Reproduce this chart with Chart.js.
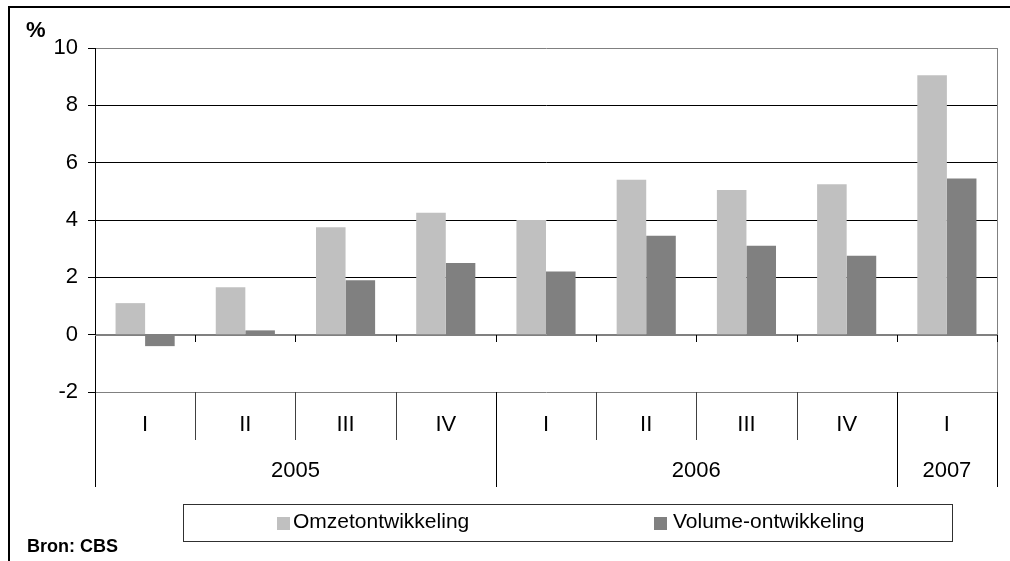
<!DOCTYPE html>
<html>
<head>
<meta charset="utf-8">
<script src="https://cdn.jsdelivr.net/npm/chart.js@4/dist/chart.umd.min.js"></script>
<style>
  html, body { margin: 0; padding: 0; background: #fff; }
  #wrap { width: 1010px; height: 561px; position: relative; }
</style>
</head>
<body>
<div id="wrap"><canvas id="c" width="1010" height="561"></canvas></div>
<script>
// ---- data ----
const categories = ['I', 'II', 'III', 'IV', 'I', 'II', 'III', 'IV', 'I'];
const years = ['2005', '2006', '2007'];
const yearSpans = [4, 4, 1];
const seriesNames = ['Omzetontwikkeling', 'Volume-ontwikkeling'];
const omzet = [1.1, 1.65, 3.75, 4.25, 4.0, 5.4, 5.05, 5.25, 9.05];
const volume = [-0.4, 0.15, 1.9, 2.5, 2.2, 3.45, 3.1, 2.75, 5.45];
const yMin = -2, yMax = 10, yStep = 2;
const unitLabel = '%';
const sourceLabel = 'Bron: CBS';

const colors = ['#C0C0C0', '#808080'];
const FONT = "'Liberation Sans', Arial, sans-serif";

const decor = {
  id: 'decor',
  beforeDraw(chart) {
    const ctx = chart.ctx;
    ctx.save();
    ctx.fillStyle = '#fff';
    ctx.fillRect(0, 0, chart.width, chart.height);
    ctx.restore();
  },
  afterDatasetsDraw(chart) {
    const ctx = chart.ctx;
    const x = chart.scales.x, y = chart.scales.y;
    const ca = chart.chartArea;
    const L = Math.round(ca.left), R = Math.round(ca.right);
    const T = Math.round(ca.top), B = Math.round(ca.bottom);
    const y0 = Math.round(y.getPixelForValue(0));
    const n = categories.length;
    const catW = (R - L) / n;
    ctx.save();

    // zero line on top of bars
    ctx.strokeStyle = '#808080';
    ctx.lineWidth = 1;
    ctx.beginPath();
    ctx.moveTo(L, y0 + 0.5); ctx.lineTo(R, y0 + 0.5);
    ctx.stroke();
    // right plot border
    ctx.beginPath();
    ctx.moveTo(R + 0.5, T); ctx.lineTo(R + 0.5, B);
    ctx.stroke();

    // small ticks at zero line
    ctx.strokeStyle = '#000';
    for (let k = 1; k <= n; k++) {
      const xx = Math.round(L + k * catW) + 0.5;
      ctx.beginPath();
      ctx.moveTo(xx, y0); ctx.lineTo(xx, y0 + 7);
      ctx.stroke();
    }

    // category separators
    const yearBounds = [0];
    let acc = 0;
    yearSpans.forEach(s => { acc += s; yearBounds.push(acc); });
    for (let k = 0; k <= n; k++) {
      const xx = Math.round(L + k * catW) + 0.5;
      const isYear = yearBounds.includes(k);
      ctx.strokeStyle = isYear ? '#000' : '#404040';
      ctx.beginPath();
      ctx.moveTo(xx, B);
      ctx.lineTo(xx, isYear ? 487 : 440);
      ctx.stroke();
    }

    // quarter labels
    ctx.fillStyle = '#000';
    ctx.font = '22px ' + FONT;
    ctx.textAlign = 'center';
    ctx.textBaseline = 'middle';
    categories.forEach((c, i) => {
      ctx.fillText(c, x.getPixelForValue(i), 425);
    });
    // year labels
    let start = 0;
    years.forEach((yr, j) => {
      const a = L + start * catW;
      const b = L + (start + yearSpans[j]) * catW;
      ctx.fillText(yr, (a + b) / 2, 471);
      start += yearSpans[j];
    });

    // unit label
    ctx.font = 'bold 22px ' + FONT;
    ctx.textAlign = 'left';
    ctx.fillText(unitLabel, 26, 31);

    // source
    ctx.font = 'bold 18px ' + FONT;
    ctx.fillText(sourceLabel, 27, 547);

    // legend
    ctx.strokeStyle = '#303030';
    ctx.lineWidth = 1;
    ctx.strokeRect(183.5, 504.5, 769, 37);
    const items = [
      { sx: 277, tx: 293 },
      { sx: 654, tx: 673 }
    ];
    chart.data.datasets.forEach((ds, i) => {
      ctx.fillStyle = ds.backgroundColor;
      ctx.fillRect(items[i].sx, 517, 13, 13);
      ctx.fillStyle = '#000';
      ctx.font = '21px ' + FONT;
      ctx.textBaseline = 'middle';
      ctx.fillText(ds.label, items[i].tx, 522);
    });

    // outer frame (top & left)
    ctx.fillStyle = '#000';
    ctx.fillRect(8, 6, chart.width - 8, 2);
    ctx.fillRect(8, 6, 2, chart.height - 6);

    // extend left axis line down
    ctx.strokeStyle = '#000';
    ctx.beginPath();
    ctx.moveTo(L + 0.5, B); ctx.lineTo(L + 0.5, 487);
    ctx.stroke();

    ctx.restore();
  }
};

new Chart(document.getElementById('c'), {
  type: 'bar',
  data: {
    labels: categories,
    datasets: [
      { label: seriesNames[0], data: omzet, backgroundColor: colors[0], borderWidth: 0,
        categoryPercentage: 0.59, barPercentage: 1.0 },
      { label: seriesNames[1], data: volume, backgroundColor: colors[1], borderWidth: 0,
        categoryPercentage: 0.59, barPercentage: 1.0 }
    ]
  },
  options: {
    responsive: false,
    animation: false,
    devicePixelRatio: 1,
    layout: { padding: { top: 48, right: 13, left: 0, bottom: 0 } },
    plugins: { legend: { display: false }, tooltip: { enabled: false }, title: { display: false } },
    scales: {
      x: {
        display: true,
        grid: { display: false },
        border: { display: false },
        ticks: { display: false },
        afterFit: s => { s.height = 169; }
      },
      y: {
        min: yMin, max: yMax,
        ticks: {
          stepSize: yStep,
          color: '#000',
          padding: 10,
          font: { size: 22, family: FONT }
        },
        grid: {
          color: c => (c.tick && (c.tick.value === 0 || c.tick.value === yMin || c.tick.value === yMax)) ? '#808080' : '#000',
          tickColor: '#000',
          tickLength: 7,
          lineWidth: 1
        },
        border: { display: true, color: '#000', width: 1 },
        afterFit: s => { s.width = 95; }
      }
    }
  },
  plugins: [decor]
});
</script>
</body>
</html>
